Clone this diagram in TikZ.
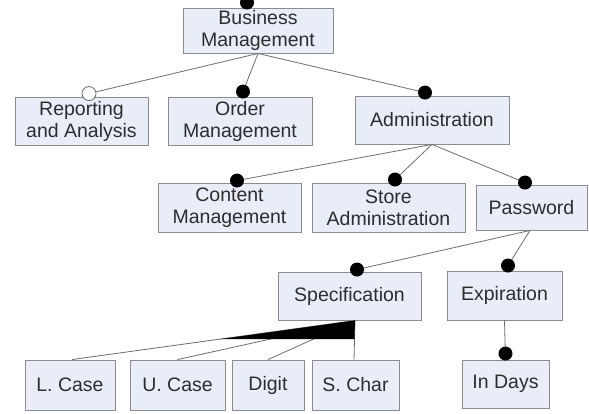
\documentclass[tikz,border=0pt]{standalone}
\usepackage{fontspec}
\setmainfont{Liberation Sans}
\usetikzlibrary{calc}
\definecolor{boxfill}{RGB}{233,237,247}
\definecolor{boxline}{RGB}{140,140,140}
\definecolor{linec}{RGB}{110,110,110}
\definecolor{textc}{RGB}{45,45,45}
\tikzset{
  box/.style={draw=boxline, fill=boxfill, line width=0.9pt, inner sep=0pt, align=center,
    text=textc, font=\fontsize{19.5}{22}\selectfont},
  conn/.style={draw=linec, line width=0.8pt},
  mand/.style={fill=black},
  opt/.style={draw=linec, fill=white, line width=0.8pt},
}
\newcommand{\bx}[6]{\node[box, minimum width={#4-#2}, minimum height={#5-#3}] (#1) at ({(#2+#4)/2},{(#3+#5)/2}) {#6};}
\begin{document}
\begin{tikzpicture}[x=1pt,y=-1pt]
\useasboundingbox[fill=white] (0,0) rectangle (589,414);
% boxes
\bx{bm}{183}{8}{333}{53}{Business\\Management}
\bx{rep}{15}{97}{148}{145}{Reporting\\and Analysis}
\bx{ord}{168}{97}{312}{145}{Order\\Management}
\bx{adm}{355}{96}{509}{144}{Administration}
\bx{cont}{158}{183}{301}{232}{Content\\Management}
\bx{store}{312}{183}{465}{232}{Store\\Administration}
\bx{pass}{476}{185}{587}{230}{Password}
\bx{spec}{278}{272}{421}{320}{Specification}
\bx{exp}{447}{271}{562}{320}{Expiration}
\bx{lc}{25}{360}{115}{410}{L. Case}
\bx{uc}{130}{360}{225}{410}{U. Case}
\bx{dig}{232}{360}{304}{410}{Digit}
\bx{sc}{312}{360}{399}{410}{S. Char}
\bx{days}{462}{360}{549}{408}{In Days}
% dot coordinates
\coordinate (bmd) at ($(bm.north)+(-11,-5)$);
\coordinate (repd) at ($(rep.north)+(7.5,-3)$);
\coordinate (ordd) at ($(ord.north)+(3,-5)$);
\coordinate (admd) at ($(adm.north)+(-7,-3)$);
\coordinate (contd) at ($(cont.north)+(7.5,-2)$);
\coordinate (stored) at ($(store.north)+(6.5,-3)$);
\coordinate (passd) at ($(pass.north)+(-6.5,-2)$);
\coordinate (specd) at ($(spec.north)+(7.5,-2)$);
\coordinate (expd) at ($(exp.north)+(3.5,-5)$);
\coordinate (daysd) at ($(days.north)+(0,-6)$);
\coordinate (so) at ($(spec.south)+(5.5,0)$);
\coordinate (lct) at ($(lc.north)+(2,0)$);
\coordinate (uct) at (uc.north);
\coordinate (digt) at (dig.north);
\coordinate (sct) at ($(sc.north)+(-1.5,0)$);
% connectors
\draw[conn] (bm.south) -- (repd);
\draw[conn] (bm.south) -- (ordd);
\draw[conn] (bm.south) -- (admd);
\draw[conn] (adm.south) -- (contd);
\draw[conn] (adm.south) -- (stored);
\draw[conn] (adm.south) -- (passd);
\draw[conn] ($(pass.south)+(-1.5,0)$) -- (specd);
\draw[conn] ($(pass.south)+(-1.5,0)$) -- (expd);
\draw[conn] (exp.south) -- (days.north);
\draw[conn] (so) -- (lct);
\draw[conn] (so) -- (uct);
\draw[conn] (so) -- (digt);
\draw[conn] (so) -- (sct);
\fill[black] (so) -- ($(so)!0.48!(lct)$) -- ($(so)!0.48!(sct)$) -- cycle;
% dots
\fill[mand] (bmd) circle[radius=7pt];
\filldraw[opt] (repd) circle[radius=7pt];
\fill[mand] (ordd) circle[radius=7pt];
\fill[mand] (admd) circle[radius=7pt];
\fill[mand] (contd) circle[radius=7pt];
\fill[mand] (stored) circle[radius=7pt];
\fill[mand] (passd) circle[radius=7pt];
\fill[mand] (specd) circle[radius=7pt];
\fill[mand] (expd) circle[radius=7pt];
\fill[mand] (daysd) circle[radius=7pt];
\end{tikzpicture}
\end{document}
